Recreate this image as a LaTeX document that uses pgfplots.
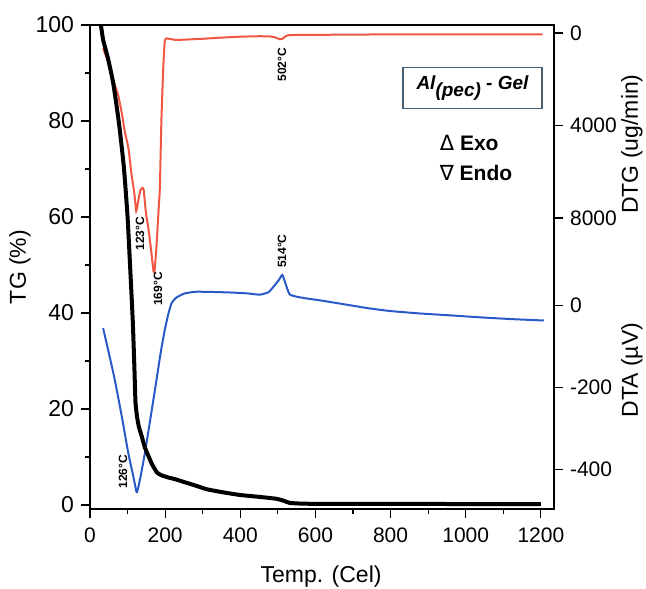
\documentclass[border=0pt]{standalone}
\usepackage{pgfplots}
\pgfplotsset{compat=1.18}
\usepackage{fontspec}
\setmainfont{Liberation Sans}
\newfontfamily\symfont{DejaVu Sans}
\definecolor{tgred}{RGB}{240,86,66}
\definecolor{dtablue}{RGB}{42,88,200}
\definecolor{boxcol}{RGB}{70,95,115}
\begin{document}
\begin{tikzpicture}
\path[use as bounding box] (-45pt,-39.5pt) rectangle (278pt,254.5pt);
\pgfplotsset{
  base/.style={
    at={(0,0)}, anchor=south west,
    scale only axis, width=232pt, height=242pt,
    xmin=0, xmax=1235,
    tick align=outside,
    major tick length=4.5pt, minor tick length=2.5pt,
    tick style={black, line width=0.6pt},
    axis line style={line width=0.8pt, black},
    ticklabel style={font=\fontsize{10.5}{12}\selectfont},
    label style={font=\fontsize{11.5}{13}\selectfont},
    /pgf/number format/assume math mode=true,
    /pgf/number format/1000 sep={},
    scaled y ticks=false,
  }
}
% DTA axis
\begin{axis}[base, axis x line=none, axis y line*=right,
  ymin=-496, ymax=685, ytick={-400,-200,0},
  ylabel={DTA (µV)},
  ylabel style={at={(axis description cs:1.168,0.287)}, anchor=center}]
\addplot[dtablue, line width=1pt, smooth, tension=0.3] coordinates {
(35,-55) (50,-115) (66,-181) (85,-272) (102,-360) (115,-415) (124,-455)
(128,-445) (135,-415) (146,-360) (160,-280) (177,-181) (188,-115) (199,-59)
(208,-22) (217,6) (230,20) (252,30) (280,34) (305,34) (350,33) (381,32)
(420,30) (452,27) (475,33) (490,48) (502,62) (512,75) (520,55) (531,28)
(550,22) (575,18) (620,12) (680,3) (740,-6) (800,-13) (880,-19) (950,-23)
(1050,-29) (1130,-33) (1208,-36)};
\end{axis}
% DTG axis
\begin{axis}[base, axis x line=none, axis y line*=right, y dir=reverse,
  ymin=-346, ymax=20584, ytick={0,4000,8000},
  ylabel={DTG (ug/min)},
  ylabel style={at={(axis description cs:1.168,0.754)}, anchor=center}]
\addplot[tgred, line width=1pt, smooth, tension=0.3] coordinates {
(35,660) (50,1350) (61,2000) (75,2700) (85,3500) (93,4300) (102,4950)
(110,6050) (118,6930) (123,7700) (128,7300) (134,6800) (140,6700) (143,6800)
(149,7800) (155,8400) (162,9300) (169,10300) (172,10250) (177,9200)
(182,7800) (186,6650) (190,3800) (195,1500) (199,350) (204,230) (210,250)
(230,300) (260,280) (300,250) (350,200) (400,160) (450,140) (480,150)
(495,200) (505,270) (512,250) (522,130) (531,90) (600,80) (800,60)
(1000,60) (1205,60)};
\end{axis}
% TG axis
\begin{axis}[base, ymin=-0.83, ymax=100,
  ytick={0,20,...,100}, minor y tick num=1,
  xtick={0,200,...,1200}, minor x tick num=1,
  xtick pos=lower, ytick pos=left,
  yticklabel style={font=\fontsize{11.5}{13}\selectfont},
  xticklabel style={yshift=-1.5pt},
  xlabel={Temp. (Cel)}, ylabel={TG (\%)},
  xlabel style={at={(axis description cs:0.498,-0.1405)}, anchor=center},
  ylabel style={at={(axis description cs:-0.151,0.5)}, anchor=center},
  clip=false]
\addplot[black, line width=2pt, smooth, tension=0.3] coordinates {
(29,100) (35,96.9) (48,93) (62,87.8) (77,79.6) (90,70.5) (100,60) (109,46.2)
(114,38) (118,29) (121,21.5) (125,18.5) (130,16.3) (137,14.5) (146,12)
(155,10.3) (165,8.5) (178,6.8) (190,6.2) (210,5.7) (226,5.4) (250,4.8)
(279,4.1) (310,3.3) (350,2.7) (398,2.1) (450,1.7) (496,1.3) (515,0.9)
(531,0.45) (560,0.3) (600,0.25) (800,0.25) (1000,0.2) (1200,0.2)};
\node[rotate=90, font=\bfseries\fontsize{6}{7}\selectfont] at (axis cs:133,56.5) {123°C};
\node[rotate=90, font=\bfseries\fontsize{6}{7}\selectfont] at (axis cs:181,45) {169°C};
\node[rotate=90, font=\bfseries\fontsize{6}{7}\selectfont] at (axis cs:511,91.7) {502°C};
\node[rotate=90, font=\bfseries\fontsize{6}{7}\selectfont] at (axis cs:511,52.9) {514°C};
\node[rotate=90, font=\bfseries\fontsize{6}{7}\selectfont] at (axis cs:88,6.9) {126°C};
\node[draw=boxcol, line width=0.6pt, minimum width=69.5pt, minimum height=20.5pt,
  inner sep=1pt, font=\bfseries\itshape\fontsize{9.5}{11}\selectfont]
  at (axis cs:1018,86.8) {Al\raisebox{-3.5pt}{(pec)} - Gel};
\node[anchor=west, font=\bfseries\fontsize{10.5}{12}\selectfont, inner sep=0pt]
  at (axis cs:930,75.4) {{\symfont\mdseries Δ} Exo};
\node[anchor=west, font=\bfseries\fontsize{10.5}{12}\selectfont, inner sep=0pt]
  at (axis cs:930,69.2) {{\symfont\mdseries ∇} Endo};
\end{axis}
\end{tikzpicture}
\end{document}
